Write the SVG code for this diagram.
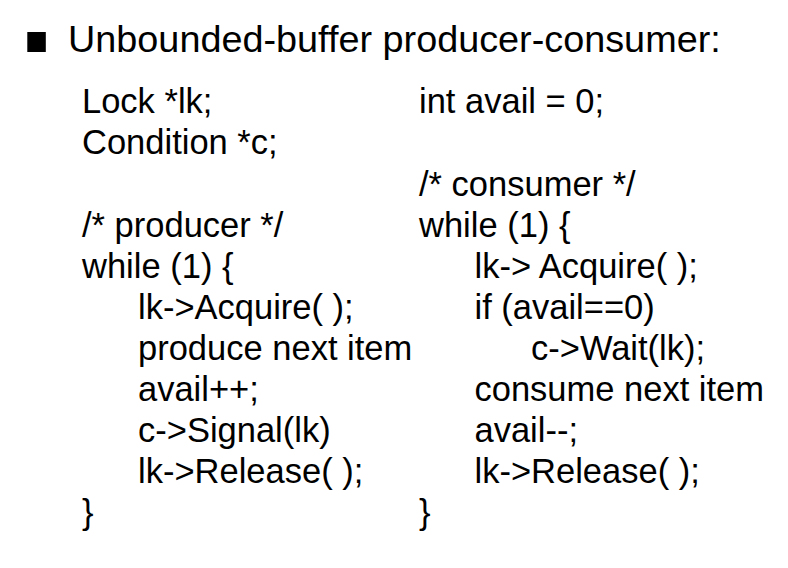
<svg xmlns="http://www.w3.org/2000/svg" width="788" height="568" viewBox="0 0 788 568">
<style>
text { font-family: "Liberation Sans", Arial, sans-serif; fill: #000; }
.t { font-size: 37.8px; }
.b { font-size: 34.5px; }
</style>
<rect width="788" height="568" fill="#fff"/>
<g id="title">
<rect x="27.3" y="32" width="18.5" height="20" fill="#000"/>
<text class="t" x="68" y="51.7">Unbounded-buffer producer-consumer:</text>
</g>
<g id="left">
<text class="b" x="82" y="113.3">Lock *lk;</text>
<text class="b" x="82" y="154.4">Condition *c;</text>
<text class="b" x="82" y="236.6">/* producer */</text>
<text class="b" x="82" y="277.7">while (1) {</text>
<text class="b" x="138" y="318.8">lk-&gt;Acquire( );</text>
<text class="b" x="138" y="359.9">produce next item</text>
<text class="b" x="138" y="401">avail++;</text>
<text class="b" x="138" y="442.1">c-&gt;Signal(lk)</text>
<text class="b" x="138" y="483.2">lk-&gt;Release( );</text>
<text class="b" x="82" y="524.3">}</text>
</g>
<g id="right">
<text class="b" x="419" y="113.3">int avail = 0;</text>
<text class="b" x="419" y="195.5">/* consumer */</text>
<text class="b" x="419" y="236.6">while (1) {</text>
<text class="b" x="474.5" y="277.7">lk-&gt; Acquire( );</text>
<text class="b" x="474.5" y="318.8">if (avail==0)</text>
<text class="b" x="531" y="359.9">c-&gt;Wait(lk);</text>
<text class="b" x="474.5" y="401">consume next item</text>
<text class="b" x="474.5" y="442.1">avail--;</text>
<text class="b" x="474.5" y="483.2">lk-&gt;Release( );</text>
<text class="b" x="419" y="524.3">}</text>
</g>
</svg>
